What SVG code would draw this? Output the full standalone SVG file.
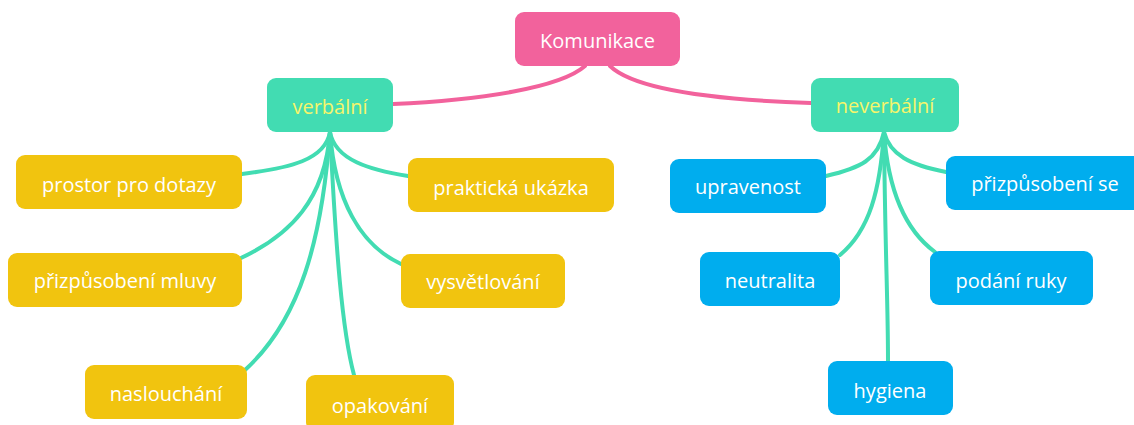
<svg xmlns="http://www.w3.org/2000/svg" width="1134" height="425" viewBox="0 0 1134 425">
<style>
.c{fill:none;stroke-width:4;stroke-linecap:round}
.p{stroke:#f2629c}
.g{stroke:#42dcb2}
.root{fill:#f2629c}
.main{fill:#42dcb2}
.y{fill:#f1c40f}
.b{fill:#00adee}
text{font-family:"Open Sans","Noto Sans","Liberation Sans",sans-serif;font-size:20px;fill:#ffffff;text-anchor:middle;dominant-baseline:central}
.mt{fill:#f6f56a}
</style>
<rect width="1134" height="425" fill="#ffffff"/>
<g id="connectors">
<path class="c p" d="M585,66 C560,88 480,100 393,104"/>
<path class="c p" d="M610,66 C635,90 720,100 811,103"/>
<path class="c g" d="M330,132 C325,160 290,168 242,174"/>
<path class="c g" d="M330,132 C335,160 370,170 408,176"/>
<path class="c g" d="M330,132 C325,200 290,235 241,258"/>
<path class="c g" d="M330,132 C335,200 360,245 401,264"/>
<path class="c g" d="M330,132 C322,240 300,320 245,370"/>
<path class="c g" d="M330,132 C336,250 342,330 354,375"/>
<path class="c g" d="M884,132 C878,160 860,168 826,176"/>
<path class="c g" d="M884,132 C890,155 910,165 946,172"/>
<path class="c g" d="M884,132 C880,190 870,230 840,255"/>
<path class="c g" d="M884,132 C888,190 905,230 935,252"/>
<path class="c g" d="M884,132 C885,250 888,300 888,361"/>
</g>
<g id="komunikace"><rect class="root" x="515" y="12" width="165" height="54" rx="9"/><text x="597.5" y="40">Komunikace</text></g>
<g id="verbalni"><rect class="main" x="267" y="78" width="126" height="54" rx="9"/><text class="mt" x="330" y="106">verbální</text></g>
<g id="neverbalni"><rect class="main" x="811" y="78" width="148" height="54" rx="9"/><text class="mt" x="885" y="105">neverbální</text></g>
<g id="prostor"><rect class="y" x="16" y="155" width="226" height="54" rx="9"/><text x="129" y="184">prostor pro dotazy</text></g>
<g id="prakticka"><rect class="y" x="408" y="158" width="206" height="54" rx="9"/><text x="511" y="187">praktická ukázka</text></g>
<g id="prizpusobeni-mluvy"><rect class="y" x="8" y="253" width="234" height="54" rx="9"/><text x="125" y="280">přizpůsobení mluvy</text></g>
<g id="vysvetlovani"><rect class="y" x="401" y="254" width="164" height="54" rx="9"/><text x="483" y="281">vysvětlování</text></g>
<g id="nasluchani"><rect class="y" x="85" y="365" width="162" height="54" rx="9"/><text x="166" y="393">naslouchání</text></g>
<g id="opakovani"><rect class="y" x="306" y="375" width="148" height="56" rx="9"/><text x="380" y="405">opakování</text></g>
<g id="upravenost"><rect class="b" x="670" y="159" width="156" height="54" rx="9"/><text x="748" y="186">upravenost</text></g>
<g id="prizpusobeni-se"><rect class="b" x="946" y="156" width="200" height="54" rx="9"/><text x="1045" y="183">přizpůsobení se</text></g>
<g id="neutralita"><rect class="b" x="700" y="252" width="140" height="54" rx="9"/><text x="770" y="280">neutralita</text></g>
<g id="podani-ruky"><rect class="b" x="930" y="251" width="163" height="54" rx="9"/><text x="1011" y="280">podání ruky</text></g>
<g id="hygiena"><rect class="b" x="828" y="361" width="125" height="54" rx="9"/><text x="890" y="390">hygiena</text></g>
</svg>
